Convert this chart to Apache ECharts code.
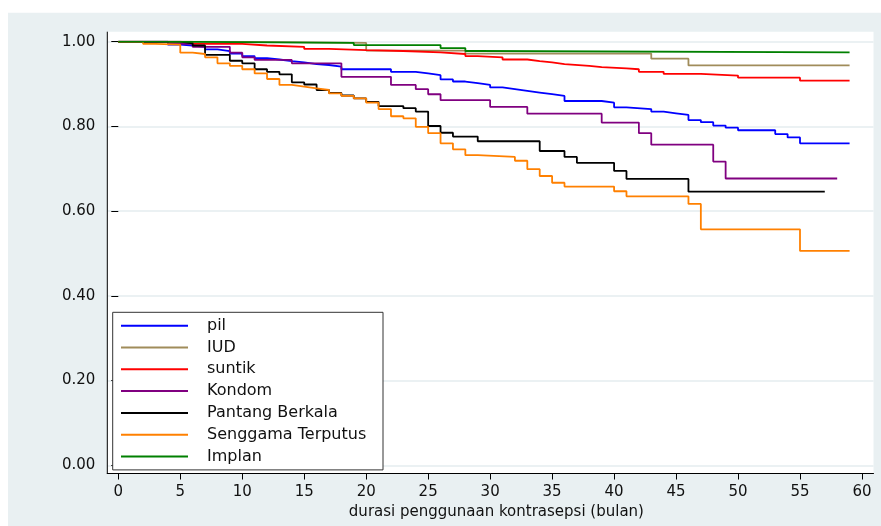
<!DOCTYPE html>
<html>
<head>
<meta charset="utf-8">
<script src="https://cdn.jsdelivr.net/npm/echarts@6/dist/echarts.min.js"></script>
<style>html,body{margin:0;padding:0;background:#fff}#c{width:881px;height:526px}</style>
</head>
<body>
<div id="c"></div>
<script>
// ---- data (Kaplan-Meier step values) ----
const seriesNames = ['pil', 'IUD', 'suntik', 'Kondom', 'Pantang Berkala', 'Senggama Terputus', 'Implan'];
const xTickLabels = [0, 5, 10, 15, 20, 25, 30, 35, 40, 45, 50, 55, 60];
const yTickLabels = [0, 0.2, 0.4, 0.6, 0.8, 1.0];

const pilT = [0, 4, 5, 6, 7, 8, 9, 10, 11, 12, 13, 14, 15, 16, 17, 18, 22, 24, 25, 26, 27, 28, 29, 30, 31, 32, 33, 34, 35, 36, 39, 40, 41, 43, 44, 45, 46, 47, 48, 49, 50, 53, 54, 55, 59];
const pilS = [1.000, 0.993, 0.991, 0.988, 0.982, 0.978, 0.972, 0.966, 0.961, 0.958, 0.954, 0.951, 0.947, 0.945, 0.941, 0.935, 0.929, 0.925, 0.921, 0.911, 0.906, 0.902, 0.898, 0.892, 0.888, 0.884, 0.880, 0.876, 0.872, 0.860, 0.856, 0.845, 0.841, 0.835, 0.831, 0.827, 0.815, 0.810, 0.802, 0.797, 0.791, 0.782, 0.774, 0.760, 0.760];

const iudT = [0, 8, 20, 28, 43, 46, 59];
const iudS = [1.000, 0.997, 0.979, 0.972, 0.960, 0.944, 0.944];

const suntikT = [0, 6, 10, 12, 15, 17, 20, 23, 26, 28, 29, 31, 33, 34, 35, 36, 38, 39, 41, 42, 44, 47, 50, 55, 59];
const suntikS = [1.000, 0.995, 0.991, 0.988, 0.983, 0.980, 0.978, 0.975, 0.971, 0.966, 0.963, 0.958, 0.954, 0.951, 0.947, 0.943, 0.940, 0.937, 0.935, 0.929, 0.924, 0.920, 0.915, 0.908, 0.908];

const kondomT = [0, 4, 6, 9, 10, 11, 14, 18, 22, 24, 25, 26, 30, 33, 39, 42, 43, 48, 49, 58];
const kondomS = [1.000, 0.995, 0.988, 0.974, 0.963, 0.957, 0.949, 0.917, 0.898, 0.888, 0.876, 0.862, 0.846, 0.830, 0.809, 0.784, 0.757, 0.717, 0.677, 0.677];

const pantangT = [0, 5, 6, 7, 9, 10, 11, 12, 13, 14, 15, 16, 17, 18, 19, 20, 21, 23, 24, 25, 26, 27, 29, 34, 36, 37, 40, 41, 46, 57];
const pantangS = [1.000, 0.996, 0.991, 0.969, 0.955, 0.949, 0.935, 0.929, 0.923, 0.904, 0.899, 0.886, 0.879, 0.873, 0.866, 0.858, 0.848, 0.843, 0.835, 0.801, 0.785, 0.776, 0.765, 0.742, 0.728, 0.714, 0.695, 0.676, 0.646, 0.646];

const senggamaT = [0, 2, 3, 5, 6, 7, 8, 9, 10, 11, 12, 13, 14, 15, 16, 17, 18, 19, 20, 21, 22, 23, 24, 25, 26, 27, 28, 29, 32, 33, 34, 35, 36, 40, 41, 46, 47, 55, 59];
const senggamaS = [1.000, 0.995, 0.993, 0.974, 0.971, 0.963, 0.949, 0.943, 0.935, 0.925, 0.912, 0.898, 0.894, 0.890, 0.886, 0.878, 0.872, 0.866, 0.856, 0.841, 0.824, 0.819, 0.799, 0.784, 0.760, 0.746, 0.732, 0.728, 0.719, 0.699, 0.683, 0.667, 0.658, 0.647, 0.635, 0.617, 0.557, 0.506, 0.506];

const implanT = [0, 3, 19, 26, 28, 29, 59];
const implanS = [1.000, 0.997, 0.992, 0.985, 0.978, 0.975, 0.975];

const seriesColors = ['#0000ff', '#a08c5a', '#ff0000', '#800080', '#000000', '#ff8000', '#008000'];

// ---- build ----
const allT = [pilT, iudT, suntikT, kondomT, pantangT, senggamaT, implanT];
const allS = [pilS, iudS, suntikS, kondomS, pantangS, senggamaS, implanS];
const zip = (t, s) => t.map((v, i) => [v, s[i]]);

const FONT = 'DejaVu Sans';
const TXT = '#111111';

const chart = echarts.init(document.getElementById('c'), null, {renderer: 'canvas'});
chart.setOption({
  backgroundColor: '#ffffff',
  animation: false,
  textStyle: {fontFamily: FONT},
  graphic: [
    {type: 'rect', z: -10, silent: true, shape: {x: 8, y: 12.7, width: 873, height: 513.3}, style: {fill: '#e9f0f2'}},
    {type: 'rect', z: -9, silent: true, shape: {x: 107.3, y: 31.7, width: 766.2, height: 441.8}, style: {fill: '#ffffff'}},
    {type: 'line', z: 5, silent: true, shape: {x1: 107.3, y1: 31.7, x2: 107.3, y2: 474}, style: {stroke: '#000', lineWidth: 1}}
  ],
  grid: {left: 107.3, right: 7.5, top: 41.7, bottom: 60.7, containLabel: false},
  xAxis: {
    type: 'value', min: -0.887, max: 60.93,
    offset: 8.2,
    axisLine: {show: true, onZero: false, lineStyle: {color: '#000', width: 1}},
    axisTick: {show: true, customValues: xTickLabels, length: 6, lineStyle: {color: '#000'}},
    axisLabel: {customValues: xTickLabels, margin: 11, fontSize: 15, lineHeight: 15, color: TXT, fontFamily: FONT},
    splitLine: {show: false},
    name: 'durasi penggunaan kontrasepsi (bulan)',
    nameLocation: 'middle', nameGap: 29.7,
    nameTextStyle: {fontSize: 15, lineHeight: 15, color: TXT, fontFamily: FONT, padding: [0, 0, 0, 12]}
  },
  yAxis: {
    type: 'value', min: 0, max: 1, interval: 0.2,
    axisLine: {show: false},
    axisTick: {show: true, length: 7, lineStyle: {color: '#000'}},
    axisLabel: {margin: 12, fontSize: 15, color: TXT, fontFamily: FONT, formatter: v => v.toFixed(2)},
    splitLine: {show: true, lineStyle: {color: '#e4ecef', width: 1.5}}
  },
  legend: {
    orient: 'vertical', left: 112.7, top: 312.3,
    data: seriesNames,
    selectedMode: false,
    icon: 'rect', itemWidth: 67, itemHeight: 2, itemGap: 3.8,
    padding: [4.4, 16, 4.4, 8.3],
    borderColor: '#333', borderWidth: 1, backgroundColor: '#fff',
    textStyle: {fontSize: 16, lineHeight: 18, color: TXT, fontFamily: FONT, width: 160, padding: [0, 0, 0, 14]}
  },
  series: seriesNames.map((n, i) => ({
    name: n, type: 'line', step: 'end', symbol: 'none', showSymbol: false,
    color: seriesColors[i],
    lineStyle: {width: 1.8, color: seriesColors[i]},
    data: zip(allT[i], allS[i]),
    silent: true
  }))
});
</script>
</body>
</html>
